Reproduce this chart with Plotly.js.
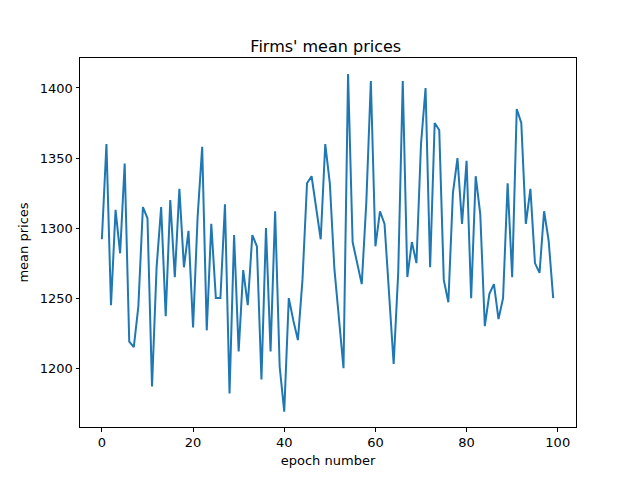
<!DOCTYPE html>
<html>
<head>
<script src="https://cdn.plot.ly/plotly-3.0.1.min.js"></script>
<style>body{margin:0}#chart{width:640px;height:480px}</style>
</head>
<body>
<div id="chart"></div>
<script>
const meanPrices = [
  1292, 1360, 1245, 1313, 1282, 1346, 1219, 1215, 1244, 1315,
  1307, 1187, 1272, 1315, 1237, 1320, 1265, 1328, 1272, 1298,
  1229, 1308, 1358, 1227, 1303, 1250, 1250, 1317, 1182, 1295,
  1212, 1270, 1245, 1295, 1287, 1192, 1300, 1212, 1312, 1201,
  1169, 1250, 1234, 1220, 1263, 1332, 1337, 1315, 1292, 1360,
  1332, 1271, 1236, 1200, 1410, 1290, 1275, 1260, 1318, 1405,
  1287, 1312, 1303, 1253, 1203, 1268, 1405, 1265, 1290, 1275,
  1360, 1400, 1272, 1375, 1370, 1263, 1247, 1325, 1350, 1303,
  1348, 1250, 1337, 1310, 1230, 1253, 1260, 1235, 1250, 1332,
  1265, 1385, 1375, 1303, 1328, 1275, 1268, 1312, 1291, 1250
];
const epochs = meanPrices.map((_, i) => i);

const axisStyle = {
  showgrid: false,
  zeroline: false,
  showline: true,
  mirror: true,
  linecolor: "#000",
  linewidth: 1,
  ticks: "outside",
  ticklen: 3.5,
  tickcolor: "#000",
  tickfont: { size: 13, color: "#000" },
};

Plotly.newPlot("chart", [{
  type: "scatter",
  mode: "lines",
  x: epochs,
  y: meanPrices,
  line: { color: "#1f77b4", width: 2 },
}], {
  width: 640,
  height: 480,
  margin: { l: 80, r: 64, t: 58, b: 53 },
  paper_bgcolor: "#fff",
  plot_bgcolor: "#fff",
  font: { family: "DejaVu Sans", color: "#000" },
  title: { text: "Firms' mean prices", font: { size: 16 }, x: 0.509, xanchor: "center", y: 0.915 },
  xaxis: { ...axisStyle, range: [-4.8, 104], tickvals: [0, 20, 40, 60, 80, 100],
    title: { text: "epoch number", font: { size: 13 }, standoff: 6 } },
  yaxis: { ...axisStyle, range: [1158, 1421.4], tickvals: [1200, 1250, 1300, 1350, 1400],
    title: { text: "mean prices", font: { size: 13 }, standoff: 8 } },
  showlegend: false,
}, { staticPlot: true });
</script>
</body>
</html>
